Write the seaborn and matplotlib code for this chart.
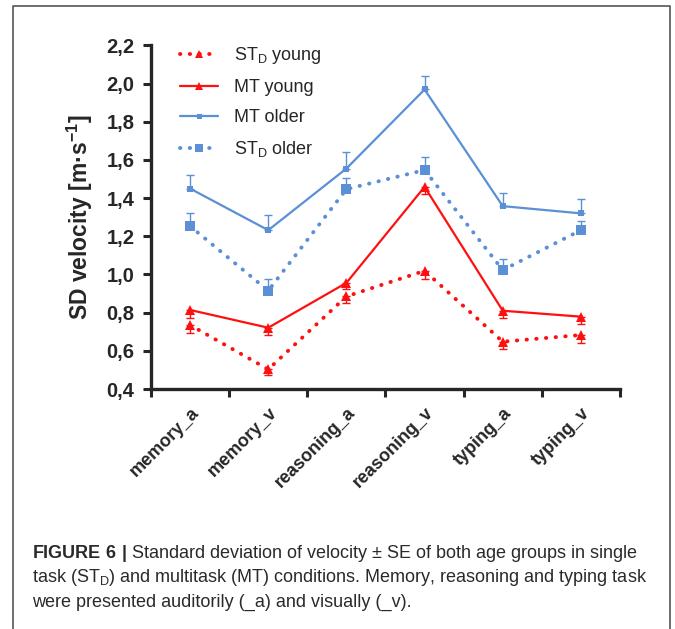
"""
SD velocity per task for both age groups (single task vs multitask)
"""

# import section
import numpy as np
import seaborn as sns
import matplotlib.pyplot as plt
from matplotlib.lines import Line2D

# data
TASKS = ['memory_a', 'memory_v', 'reasoning_a', 'reasoning_v', 'typing_a', 'typing_v']
ST_YOUNG = [0.735, 0.503, 0.885, 1.019, 0.648, 0.683]
ST_YOUNG_SE = [0.040, 0.030, 0.035, 0.045, 0.040, 0.040]
MT_YOUNG = [0.814, 0.721, 0.956, 1.459, 0.810, 0.779]
MT_YOUNG_SE = [0.040, 0.040, 0.030, 0.040, 0.040, 0.040]
MT_OLDER = [1.450, 1.232, 1.555, 1.969, 1.358, 1.320]
MT_OLDER_SE = [0.072, 0.077, 0.085, 0.070, 0.067, 0.073]
ST_OLDER = [1.253, 0.915, 1.447, 1.547, 1.023, 1.232]
ST_OLDER_SE = [0.068, 0.059, 0.060, 0.069, 0.057, 0.050]
Y_TICKS = [0.4, 0.6, 0.8, 1.0, 1.2, 1.4, 1.6, 1.8, 2.0, 2.2]

RED, BLUE = '#ff1010', '#5b8fd6'
DOTTED = (0, (0.1, 2.4))

sns.set_style('ticks')
plt.rcParams['font.family'] = ['Liberation Sans', 'DejaVu Sans']
plt.rcParams['mathtext.fontset'] = 'custom'
plt.rcParams['mathtext.rm'] = 'Liberation Sans'
plt.rcParams['mathtext.bf'] = 'Liberation Sans:bold'
plt.rcParams['mathtext.default'] = 'regular'

# set plot dimensions
X_PIXELS, Y_PIXELS, DPI = 675, 629, 100
fig = plt.figure(figsize=(X_PIXELS / DPI, Y_PIXELS / DPI), dpi=DPI)
ax = fig.add_axes([151 / 675, 1 - 389 / 629, 469 / 675, 343.6 / 629])

pos = np.arange(len(TASKS))
series = [
    ('ST$_D$ young', ST_YOUNG, ST_YOUNG_SE, RED, '^', 7, DOTTED, 'down'),
    ('MT young', MT_YOUNG, MT_YOUNG_SE, RED, '^', 7, '-', 'down'),
    ('MT older', MT_OLDER, MT_OLDER_SE, BLUE, 's', 4.5, '-', 'up'),
    ('ST$_D$ older', ST_OLDER, ST_OLDER_SE, BLUE, 's', 6.5, DOTTED, 'up'),
]
for label, vals, se, col, mk, ms, ls, side in series:
    vals, se = np.array(vals), np.array(se)
    zero = np.zeros_like(se)
    yerr = [se, zero] if side == 'down' else [zero, se]
    ax.errorbar(pos, vals, yerr=yerr, fmt='none', ecolor=col,
                elinewidth=1.0, capsize=3, capthick=1.0, zorder=2)
    lw = 2.8 if ls == DOTTED else 1.6
    sns.lineplot(x=pos, y=vals, ax=ax, color=col, marker=mk, markersize=ms,
                 markeredgewidth=0, linewidth=lw, linestyle=ls,
                 dash_capstyle='round', label=label, zorder=3)

ax.set_xlim(-0.5, 5.5)
ax.set_ylim(0.4, 2.2)
ax.set_yticks(Y_TICKS)
ax.set_yticklabels([f'{v:.1f}'.replace('.', ',') for v in Y_TICKS],
                   fontsize=14.5, fontweight='bold')
ax.set_xticks(np.arange(-0.5, 6.0, 1.0))
ax.set_xticklabels([])
ax.set_xticks(pos, minor=True)
ax.set_xticklabels(TASKS, minor=True, rotation=45, ha='right',
                   rotation_mode='anchor', fontsize=13, fontweight='bold')
ax.tick_params(axis='x', which='minor', length=0, pad=11)
ax.tick_params(axis='both', which='major', length=6, width=2.2, direction='out', pad=6)
ax.set_xlabel('')
ax.set_ylabel('SD velocity [m·s$^{-1}$]', fontsize=16.5, fontweight='bold', labelpad=8)
for side in ['left', 'bottom']:
    ax.spines[side].set_linewidth(2.4)
sns.despine(ax=ax)

handles, labels = ax.get_legend_handles_labels()
ax.legend(handles, labels, loc='upper left', bbox_to_anchor=(0.062, 1.0),
          frameon=False, fontsize=13, handlelength=2.1, handletextpad=0.9,
          labelspacing=0.72, borderpad=0, borderaxespad=0, markerscale=0.8)

# frame around figure panel
fx = [13 / 675, 13 / 675, 670 / 675, 670 / 675]
fy = [0.0, 1 - 6 / 629, 1 - 6 / 629, 0.0]
fig.add_artist(Line2D(fx, fy, transform=fig.transFigure, color='#555555', lw=1.2))

# caption
caption = [
    r'$\mathbf{FIGURE\ 6\ |}$ Standard deviation of velocity ± SE of both age groups in single',
    r'task (ST$_D$) and multitask (MT) conditions. Memory, reasoning and typing task',
    r'were presented auditorily (_a) and visually (_v).',
]
for i, line in enumerate(caption):
    fig.text(32 / 675, 1 - (553 + 24.5 * i) / 629, line, fontsize=13,
             color='#2a2a2a', va='center', ha='left')

plt.savefig('out.png', dpi=DPI)
